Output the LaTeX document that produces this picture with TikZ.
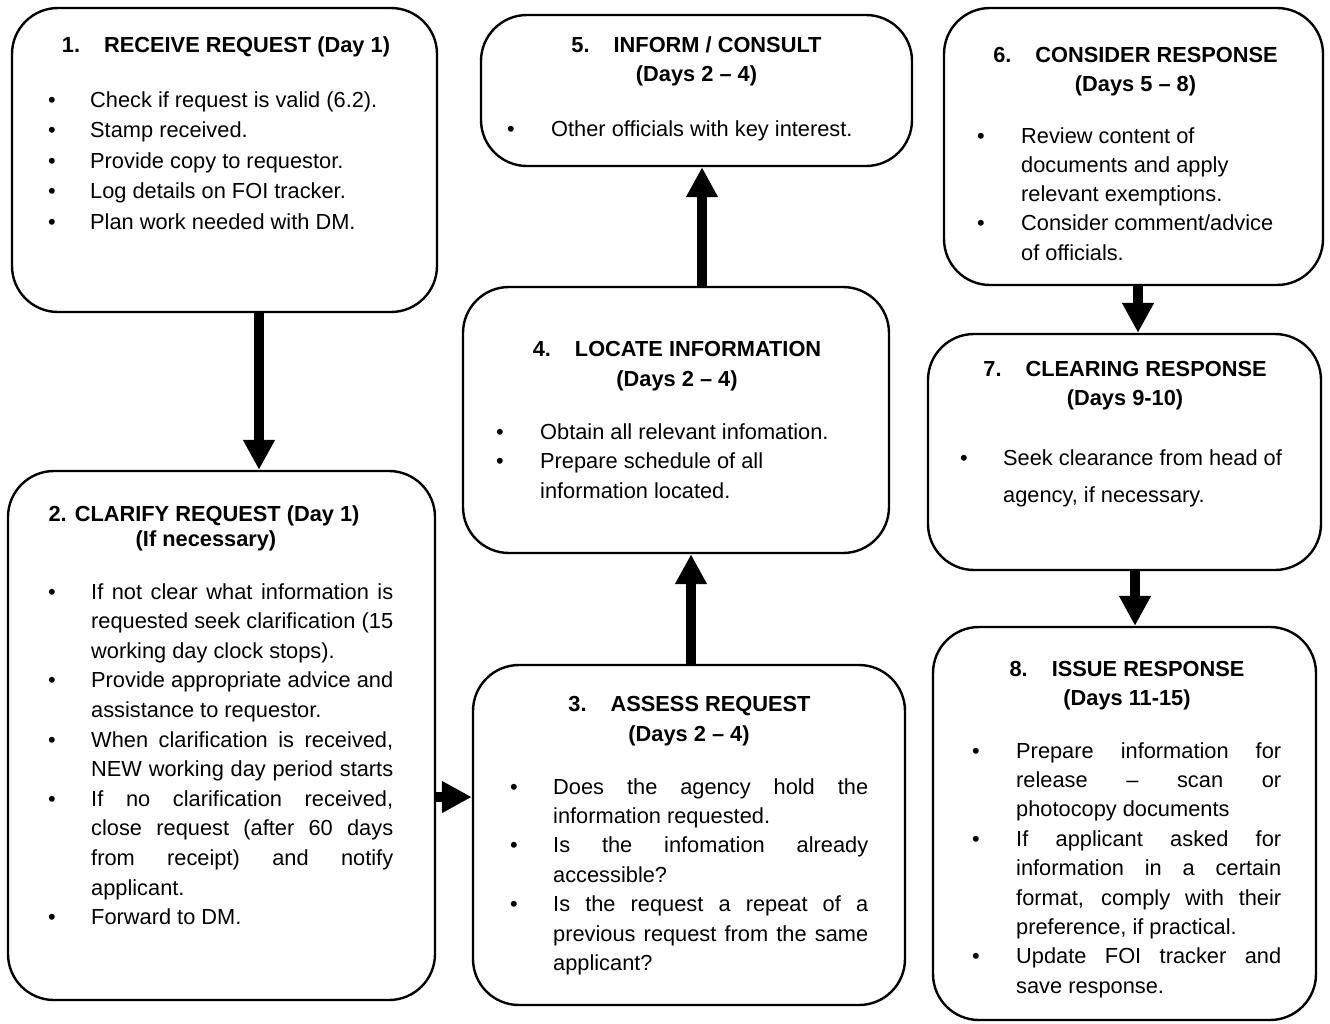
\documentclass[tikz,border=0pt]{standalone}
\usepackage{fontspec}
\setmainfont{Liberation Sans}
\usetikzlibrary{arrows.meta}
\newlength\bulw
\newlength\txtw
\newcommand\stagebody[4]{%
  \setlength\bulw{#1pt}\setlength\txtw{#2pt}%
  \parbox[t]{\dimexpr\bulw+\txtw\relax}{\fontsize{21.8}{#3}\selectfont #4}}
\newcommand\itm[1]{\par\noindent\hangindent=\bulw\hangafter=1\makebox[\bulw][l]{\textbullet}#1\par}
\newcommand\jl[1]{\makebox[\txtw][s]{#1}\\}
\begin{document}
\begin{tikzpicture}[x=1pt,y=-1pt,
  stage/.style={draw=black, line width=2.4pt, rounded corners=46pt, inner sep=0pt},
  flow/.style={line width=9.5pt, -{Triangle[length=30pt,width=30pt]}},
  hdr/.style={anchor=base, inner sep=0pt, font=\bfseries\fontsize{21.8}{26}\selectfont},
  txt/.style={anchor=base west, inner sep=0pt}]
\useasboundingbox (0,0) rectangle (1330,1023);
\fill[white] (0,0) rectangle (1330,1023);

% boxes
\node[stage, minimum width=425pt, minimum height=304pt] (b1) at (224.5,160) {};
\node[stage, minimum width=427pt, minimum height=529pt] (b2) at (221.5,735.5) {};
\node[stage, minimum width=432pt, minimum height=340pt] (b3) at (689,835) {};
\node[stage, minimum width=426pt, minimum height=266pt] (b4) at (676,420) {};
\node[stage, minimum width=431pt, minimum height=151pt] (b5) at (696.5,90.5) {};
\node[stage, minimum width=379pt, minimum height=277pt] (b6) at (1133.5,146.5) {};
\node[stage, minimum width=393pt, minimum height=236pt] (b7) at (1124.5,452) {};
\node[stage, minimum width=383pt, minimum height=393pt] (b8) at (1124.5,823.5) {};

% connectors
\coordinate (c1) at (259,0);
\coordinate (c2) at (0,797);
\coordinate (c3) at (691,0);
\coordinate (c4) at (702,0);
\coordinate (c5) at (1138,0);
\coordinate (c6) at (1135,0);
\draw[flow] (c1 |- b1.south) -- (c1 |- b2.north);
\draw[flow] (b2.east |- c2) -- (b3.west |- c2);
\draw[flow] (c3 |- b3.north) -- (c3 |- b4.south);
\draw[flow] (c4 |- b4.north) -- (c4 |- b5.south);
\draw[flow] (c5 |- b6.south) -- (c5 |- b7.north);
\draw[flow] (c6 |- b7.south) -- (c6 |- b8.north);

% box 1
\node[hdr] (h1) at (226,52) {1.\hspace{24pt}RECEIVE REQUEST (Day 1)};
\node[txt] (t1) at (48,107) {\stagebody{42}{350}{30.5}{%
  \itm{Check if request is valid (6.2).}
  \itm{Stamp received.}
  \itm{Provide copy to requestor.}
  \itm{Log details on FOI tracker.}
  \itm{Plan work needed with DM.}}};

% box 2
\node[hdr] (h2a) at (204,521) {2. CLARIFY REQUEST (Day 1)};
\node[hdr] (h2b) at (206,546) {(If necessary)};
\node[txt] (t2) at (48,599) {\stagebody{43}{302}{29.6}{%
  \itm{\jl{If not clear what information is}\jl{requested seek clarification (15}working day clock stops).}
  \itm{\jl{Provide appropriate advice and}assistance to requestor.}
  \itm{\jl{When clarification is received,}\makebox[\txtw][s]{NEW working day period starts}}
  \itm{\jl{If no clarification received,}\jl{close request (after 60 days}\jl{from receipt) and notify}applicant.}
  \itm{Forward to DM.}}};

% box 3
\node[hdr] (h3a) at (689.5,711) {3.\hspace{24pt}ASSESS REQUEST};
\node[hdr] (h3b) at (689,741) {(Days 2 – 4)};
\node[txt] (t3) at (510,794) {\stagebody{43}{315}{29.4}{%
  \itm{\jl{Does the agency hold the}information requested.}
  \itm{\jl{Is the infomation already}accessible?}
  \itm{\jl{Is the request a repeat of a}\jl{previous request from the same}applicant?}}};

% box 4
\node[hdr] (h4a) at (677,356) {4.\hspace{24pt}LOCATE INFORMATION};
\node[hdr] (h4b) at (677,386) {(Days 2 – 4)};
\node[txt] (t4) at (496,439) {\stagebody{44}{330}{29.5}{%
  \itm{Obtain all relevant infomation.}
  \itm{Prepare schedule of all\\information located.}}};

% box 5
\node[hdr] (h5a) at (696.5,52) {5.\hspace{24pt}INFORM / CONSULT};
\node[hdr] (h5b) at (696.5,81) {(Days 2 – 4)};
\node[txt] (t5) at (507,136) {\stagebody{44}{350}{29.5}{%
  \itm{Other officials with key interest.}}};

% box 6
\node[hdr] (h6a) at (1135.5,62) {6.\hspace{24pt}CONSIDER RESPONSE};
\node[hdr] (h6b) at (1135.5,91) {(Days 5 – 8)};
\node[txt] (t6) at (977,143) {\stagebody{44}{290}{29.3}{%
  \itm{Review content of\\documents and apply\\relevant exemptions.}
  \itm{Consider comment/advice\\of officials.}}};

% box 7
\node[hdr] (h7a) at (1125,376) {7.\hspace{24pt}CLEARING RESPONSE};
\node[hdr] (h7b) at (1125,405) {(Days 9-10)};
\node[txt] (t7) at (960,465) {\stagebody{43}{300}{37}{%
  \itm{Seek clearance from head of\\agency, if necessary.}}};

% box 8
\node[hdr] (h8a) at (1127,676) {8.\hspace{24pt}ISSUE RESPONSE};
\node[hdr] (h8b) at (1127,705) {(Days 11-15)};
\node[txt] (t8) at (972,758) {\stagebody{44}{265}{29.4}{%
  \itm{\jl{Prepare information for}\jl{release – scan or}photocopy documents}
  \itm{\jl{If applicant asked for}\jl{information in a certain}\jl{format, comply with their}preference, if practical.}
  \itm{\jl{Update FOI tracker and}save response.}}};
\end{tikzpicture}
\end{document}
